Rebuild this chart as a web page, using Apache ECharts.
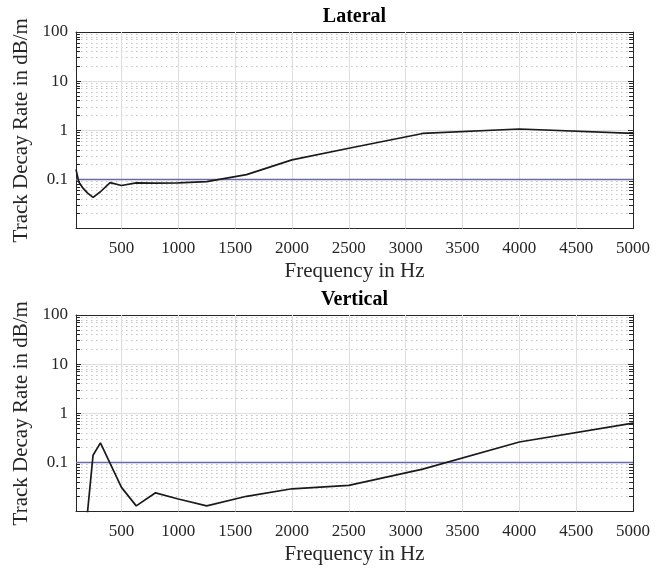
<!DOCTYPE html>
<html><head><meta charset="utf-8">
<script src="https://cdn.jsdelivr.net/npm/echarts@6/dist/echarts.min.js"></script>
<style>html,body{margin:0;padding:0;background:#fff}#c{width:656px;height:575px}</style>
</head><body><div id="c"></div>
<script>
// ---- data ----
const freqs    = [100,125,160,200,250,315,400,500,630,800,1000,1250,1600,2000,2500,3150,4000,5000];
const lateral  = [0.16,0.088,0.067,0.053,0.043,0.056,0.086,0.075,0.085,0.084,0.085,0.09,0.125,0.25,0.43,0.86,1.06,0.86];
const vertical = [0.003,0.003,0.004,0.009,0.14,0.25,0.095,0.031,0.013,0.024,0.018,0.013,0.0204,0.029,0.034,0.073,0.26,0.63];
const refLevel = 0.1;
const panelTitles = ['Lateral','Vertical'];
const xTickValues = [500,1000,1500,2000,2500,3000,3500,4000,4500,5000];
const xGridValues = [500,1000,1500,2000,2500,3000,3500,4000,4500];
const yDecades = [0.01,0.1,1,10];
const yMinorValues = [];
yDecades.forEach(d => { for (let k = 2; k <= 9; k++) yMinorValues.push(+(k*d).toPrecision(3)); });
const xMin = 100, xMax = 5000, yMin = 0.01, yMax = 100;

// ---- style ----
const FONT = 'Liberation Serif';
const axisCol = '#262626';
const gridTops = [32, 315];
const gridH = 196.5;
const minorTickHz = 35;

const chart = echarts.init(document.getElementById('c'), null, {renderer:'canvas'});

const grids = [], xAxes = [], yAxes = [], series = [];
[lateral, vertical].forEach((vals, i) => {
  grids.push({left:76, width:557, top:gridTops[i], height:gridH, containLabel:false});
  xAxes.push({
    type:'value', gridIndex:i, position:'bottom', min:xMin, max:xMax,
    axisLine:{show:true, onZero:false, lineStyle:{color:axisCol, width:1}},
    axisTick:{show:true, inside:true, length:5, customValues:xTickValues, lineStyle:{color:axisCol}},
    axisLabel:{show:true, customValues:xTickValues, margin:12, color:'#262626', fontFamily:FONT, fontSize:17,
      formatter: v => String(v)},
    splitLine:{show:false},
    name:'Frequency in Hz', nameLocation:'middle', nameGap:32,
    nameTextStyle:{fontFamily:FONT, fontSize:21, color:'#262626'}
  });
  xAxes.push({
    type:'value', gridIndex:i, position:'top', min:xMin, max:xMax,
    axisLine:{show:true, onZero:false, lineStyle:{color:axisCol, width:1}},
    axisTick:{show:true, inside:true, length:5, customValues:xTickValues, lineStyle:{color:axisCol}},
    axisLabel:{show:false}, splitLine:{show:false},
    name:panelTitles[i], nameLocation:'middle', nameGap:5,
    nameTextStyle:{fontFamily:FONT, fontSize:20, fontWeight:'bold', color:'#000'}
  });
  yAxes.push({
    type:'log', logBase:10, gridIndex:i, position:'left', min:yMin, max:yMax,
    axisLine:{show:true, onZero:false, lineStyle:{color:axisCol, width:1}},
    axisTick:{show:true, inside:true, length:5, lineStyle:{color:axisCol}},
    axisLabel:{show:true, showMinLabel:false, margin:8, color:'#262626', fontFamily:FONT, fontSize:17,
      formatter: v => String(+(+v).toPrecision(3))},
    splitLine:{show:true, lineStyle:{color:'#dedede', width:1}},
    minorTick:{show:false}, minorSplitLine:{show:false},
    name:'Track Decay Rate in dB/m', nameLocation:'middle', nameGap:37,
    nameTextStyle:{fontFamily:FONT, fontSize:21, color:'#262626'}
  });
  yAxes.push({
    type:'log', logBase:10, gridIndex:i, position:'right', min:yMin, max:yMax,
    axisLine:{show:true, onZero:false, lineStyle:{color:axisCol, width:1}},
    axisTick:{show:true, inside:true, length:5, lineStyle:{color:axisCol}},
    axisLabel:{show:false}, splitLine:{show:false}
  });

  const xi = i*2, yi = i*2;
  const gridLines = [];
  yMinorValues.forEach(v => gridLines.push({yAxis:v, lineStyle:{color:'#c4c4c4', width:1, type:[1.5,3.5]}}));
  xGridValues.forEach(v => gridLines.push({xAxis:v, lineStyle:{color:'#dedede', width:1, type:'solid'}}));
  yMinorValues.forEach(v => {
    gridLines.push([{coord:[xMin, v], lineStyle:{color:axisCol, width:1, type:'solid'}}, {coord:[xMin+minorTickHz, v]}]);
    gridLines.push([{coord:[xMax-minorTickHz, v], lineStyle:{color:axisCol, width:1, type:'solid'}}, {coord:[xMax, v]}]);
  });
  series.push({
    type:'line', xAxisIndex:xi, yAxisIndex:yi, data:[], z:1, silent:true,
    markLine:{silent:true, symbol:['none','none'], animation:false, label:{show:false}, data:gridLines}
  });
  series.push({
    type:'line', xAxisIndex:xi, yAxisIndex:yi, data:[], z:3, silent:true,
    markLine:{silent:true, symbol:['none','none'], animation:false, label:{show:false},
      lineStyle:{color:'#6a6aa6', width:1.3, type:'solid'}, data:[{yAxis:refLevel}]}
  });
  series.push({
    type:'line', xAxisIndex:xi, yAxisIndex:yi, z:5, clip:true,
    data: freqs.map((f,j) => [f, vals[j]]),
    symbol:'none', lineStyle:{color:'#1a1a1a', width:1.7}
  });
});

chart.setOption({
  animation:false,
  backgroundColor:'#fff',
  grid:grids, xAxis:xAxes, yAxis:yAxes, series:series
});
</script></body></html>
